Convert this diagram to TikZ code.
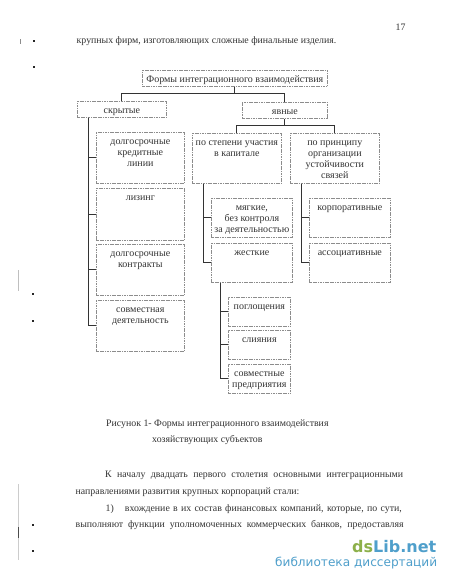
\documentclass[tikz,border=0pt]{standalone}
\usepackage{fontspec}
\setmainfont{Liberation Serif}
\newfontfamily\logofont{DejaVu Sans}
\definecolor{boxgray}{gray}{0.55}
\definecolor{linkgray}{gray}{0.2}
\definecolor{inkgray}{gray}{0.2}
\definecolor{logogreen}{HTML}{8DB04A}
\definecolor{logoblue}{HTML}{4F9FCB}
% box of fixed size with its text at the top
\newcommand{\boxtxt}[3]{\parbox[t][#2pt][t]{#1pt}{\centering\rule{0pt}{12.5pt}#3}}
\tikzset{
  formbox/.style = {draw=boxgray,dash pattern=on 1.2pt off 0.5pt,line width=0.7pt,rectangle,anchor=north west,
    inner sep=0pt,align=center,text=inkgray,font=\fontsize{10}{11}\selectfont},
  headbox/.style = {formbox,text height=8pt,text depth=0pt,minimum height=16pt},
  link/.style = {draw=linkgray,line width=0.8pt},
  pagetext/.style = {anchor=base west,inner sep=0pt,text=inkgray,font=\fontsize{9.85}{11}\selectfont},
  speck/.style = {rectangle,fill=black!85,inner sep=0pt,minimum size=1.8pt},
  smudge/.style = {draw=black!#1,line width=0.8pt}
}
\begin{document}
\begin{tikzpicture}[x=1pt,y=-1pt]
    \useasboundingbox[fill=white] (0,0) rectangle (450,582);

    % page text
    \node[pagetext] (pagenum) at (395.5,30) {17};
    \node[pagetext] (firstline) at (76.5,43) {крупных фирм, изготовляющих сложные финальные изделия.};

    % boxes
    \node[headbox,minimum width=185pt] (forms) at (142,70) {Формы интеграционного взаимодействия};
    \node[headbox,minimum width=89pt] (hidden) at (77,101) {скрытые};
    \node[headbox,minimum width=85pt] (open) at (242,102) {явные};

    \node[formbox] (credit) at (96,132) {\boxtxt{88}{51}{долгосрочные\\кредитные\\линии}};
    \node[formbox] (leasing) at (96,188) {\boxtxt{88}{52}{лизинг}};
    \node[formbox] (contracts) at (96,244) {\boxtxt{88}{51}{долгосрочные\\контракты}};
    \node[formbox] (joint) at (96,300) {\boxtxt{88}{51}{совместная\\деятельность}};

    \node[formbox] (share) at (192,133) {\boxtxt{89}{50}{по степени участия\\в капитале}};
    \node[formbox] (principle) at (290,133) {\boxtxt{89}{50}{по принципу\\организации\\устойчивости\\связей}};

    \node[formbox] (soft) at (211,198) {\boxtxt{81}{39}{мягкие,\\без контроля\\за деятельностью}};
    \node[formbox] (hard) at (211,243) {\boxtxt{81}{39}{жесткие}};
    \node[formbox] (corp) at (309,198) {\boxtxt{81}{39}{корпоративные}};
    \node[formbox] (assoc) at (309,243) {\boxtxt{81}{39}{ассоциативные}};

    \node[formbox] (absorb) at (228,297) {\boxtxt{62}{29}{поглощения}};
    \node[formbox] (merge) at (228,330) {\boxtxt{62}{29}{слияния}};
    \node[formbox] (venture) at (228,364) {\boxtxt{62}{29}{совместные\\предприятия}};

    % spines
    \coordinate (hiddenspine) at ([xshift=11pt]hidden.south west);
    \coordinate (sharespine) at ([xshift=11pt]share.south west);
    \coordinate (principlespine) at ([xshift=11pt]principle.south west);
    \coordinate (hardspine) at ([xshift=9pt]hard.south west);

    % connectors
    \draw[link] (forms.south) -- ++(0,7) -| (hidden.north);
    \draw[link] (forms.south) -- ++(0,7) -| (open.north);
    \draw[link] (open.south) -- ++(0,7) -| (share.north);
    \draw[link] (open.south) -- ++(0,7) -| (principle.north);
    \foreach \item in {credit,leasing,contracts,joint}
        \draw[link] (hiddenspine) |- (\item.west);
    \foreach \item in {soft,hard}
        \draw[link] (sharespine) |- (\item.west);
    \foreach \item in {corp,assoc}
        \draw[link] (principlespine) |- (\item.west);
    \foreach \item in {absorb,merge,venture}
        \draw[link] (hardspine) |- (\item.west);

    % caption and body
    \node[pagetext] (captiona) at (106,426) {Рисунок 1- Формы интеграционного взаимодействия};
    \node[pagetext] (captionb) at (152,442) {хозяйствующих субъектов};
    \node[pagetext] (bodya) at (105,477) {\makebox[298pt][s]{К началу двадцать первого столетия основными интеграционными}};
    \node[pagetext] (bodyb) at (75.5,494) {направлениями развития крупных корпораций стали:};
    \node[pagetext] (bodyc) at (105.5,511) {1)\hspace{11pt}\makebox[277pt][s]{вхождение в их состав финансовых компаний, которые, по сути,}};
    \node[pagetext] (bodyd) at (75.5,527) {\makebox[328pt][s]{выполняют функции уполномоченных коммерческих банков, предоставляя}};

    % margin marks
    \foreach \sx/\sy in {34/41,34/67,33/294,33/321,33/525,33/551}
        \node[speck] at (\sx,\sy) {};
    \draw[smudge=45] (20,39) -- (20,44);
    \draw[smudge=25] (18,270) -- (18,291);
    \draw[smudge=20] (18,484) -- (18,560);
    \draw[smudge=70] (18,527) -- (18,538);

    % logo
    \node[anchor=base west,inner sep=0pt,font=\logofont\bfseries\fontsize{16}{16}\selectfont] (logo) at (352,552) {\textcolor{logogreen}{ds}\textcolor{logoblue}{Lib.net}};
    \node[anchor=base west,inner sep=0pt,text=logoblue,font=\logofont\fontsize{12.1}{14}\selectfont] (logotext) at (275,566) {библиотека диссертаций};
\end{tikzpicture}
\end{document}
